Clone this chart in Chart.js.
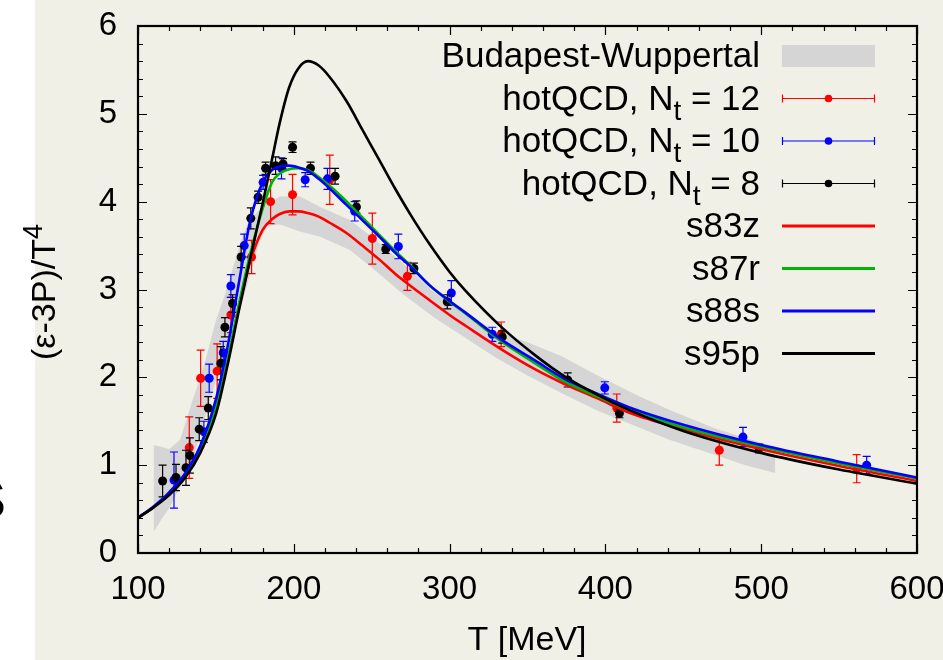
<!DOCTYPE html>
<html>
<head>
<meta charset="utf-8">
<script src="https://cdn.jsdelivr.net/npm/chart.js@4.4.1/dist/chart.umd.min.js"></script>
<style>
  html, body { margin: 0; padding: 0; background: #fff; }
  canvas { display: block; }
</style>
</head>
<body>
<canvas id="eos" width="943" height="660"></canvas>
<script>
// Budapest-Wuppertal band (upper / lower edge)
var bandT     = [110, 115, 120, 127, 135, 140, 144, 150, 155, 161, 166, 171, 178, 183, 191, 204, 217, 236, 250, 270, 290, 310, 330, 350, 372, 395, 420, 441, 470, 490, 509];
var bandUpper = [1.23, 1.21, 1.18, 1.29, 1.74, 2.0, 2.24, 2.65, 2.9, 3.25, 3.55, 3.77, 3.91, 3.98, 4.06, 4.06, 3.94, 3.79, 3.6, 3.3, 2.97, 2.72, 2.52, 2.40, 2.24, 2.02, 1.80, 1.63, 1.42, 1.31, 1.21];
var bandLower = [0.24, 0.38, 0.51, 0.75, 1.05, 1.36, 1.6, 1.97, 2.25, 2.51, 2.8, 3.11, 3.55, 3.72, 3.74, 3.66, 3.6, 3.45, 3.25, 2.95, 2.68, 2.45, 2.22, 2.02, 1.82, 1.62, 1.44, 1.29, 1.12, 1.0, 0.91];

// hotQCD lattice points
var nt12T   = [132.9, 140.2, 150.8, 159.6, 172.9, 185.1, 199.2, 223.1, 250.4, 272.9, 333.1, 407.3, 473.1, 561.3];
var nt12V   = [1.20, 1.99, 2.07, 2.71, 3.37, 4.00, 4.08, 4.25, 3.58, 3.15, 2.49, 1.65, 1.17, 0.96];
var nt12Err = [0.35, 0.32, 0.31, 0.2, 0.19, 0.25, 0.23, 0.28, 0.29, 0.16, 0.14, 0.16, 0.17, 0.16];

var nt10T   = [123.1, 142.3, 145.7, 154.7, 159.6, 168.2, 180.3, 192.1, 207.3, 221.6, 239.1, 267.1, 301.1, 327.4, 399.6, 488.3, 567.7];
var nt10V   = [0.83, 1.38, 1.99, 2.28, 3.04, 3.50, 4.22, 4.38, 4.25, 4.26, 3.89, 3.49, 2.96, 2.49, 1.88, 1.32, 1.00];
var nt10Err = [0.32, 0.12, 0.16, 0.13, 0.13, 0.13, 0.08, 0.12, 0.08, 0.12, 0.11, 0.14, 0.14, 0.08, 0.07, 0.11, 0.1];

var nt8T   = [115.8, 124.4, 130.8, 133.3, 139.3, 145.1, 153.2, 155.8, 160.7, 166.2, 172.4, 177.1, 181.9, 188.3, 193.1, 199.2, 210.7, 226.5, 240.2, 259.0, 277.1, 298.5, 333.8, 375.8, 409.0, 498.7];
var nt8V   = [0.82, 0.86, 0.97, 1.11, 1.41, 1.65, 2.16, 2.57, 2.84, 3.37, 3.81, 4.05, 4.38, 4.41, 4.43, 4.62, 4.38, 4.29, 3.94, 3.46, 3.24, 2.86, 2.46, 1.97, 1.59, 1.19];
var nt8Err = [0.18, 0.15, 0.2, 0.2, 0.13, 0.13, 0.19, 0.11, 0.1, 0.12, 0.12, 0.07, 0.07, 0.1, 0.06, 0.06, 0.07, 0.09, 0.07, 0.05, 0.06, 0.08, 0.07, 0.08, 0.05, 0.05];

// model curves, all on the same T grid
var curveT = [100, 110, 120, 130, 140, 150, 157, 165, 172, 180, 186, 191, 197, 203, 209, 216, 223, 234, 244, 255, 265, 275, 287, 300, 310, 334, 355, 373, 395, 415, 450, 500, 550, 600];
var s83z = [0.40, 0.52, 0.67, 0.87, 1.17, 1.65, 2.13, 2.82, 3.32, 3.68, 3.80, 3.86, 3.89, 3.89, 3.87, 3.83, 3.76, 3.64, 3.50, 3.34, 3.18, 3.04, 2.88, 2.71, 2.59, 2.31, 2.09, 1.93, 1.76, 1.60, 1.41, 1.18, 0.99, 0.82];
var s87r = [0.40, 0.52, 0.67, 0.87, 1.17, 1.66, 2.15, 2.85, 3.40, 3.92, 4.22, 4.32, 4.37, 4.38, 4.36, 4.28, 4.18, 4.00, 3.82, 3.62, 3.44, 3.27, 3.05, 2.86, 2.73, 2.40, 2.16, 1.96, 1.78, 1.63, 1.43, 1.21, 1.02, 0.85];
var s88s = [0.40, 0.53, 0.69, 0.90, 1.22, 1.75, 2.30, 3.10, 3.78, 4.22, 4.36, 4.40, 4.41, 4.39, 4.35, 4.26, 4.15, 3.96, 3.79, 3.60, 3.42, 3.26, 3.05, 2.87, 2.74, 2.42, 2.19, 1.99, 1.81, 1.66, 1.46, 1.23, 1.04, 0.86];
var s95p = [0.40, 0.52, 0.66, 0.85, 1.14, 1.58, 2.10, 2.78, 3.35, 3.98, 4.48, 4.90, 5.30, 5.52, 5.60, 5.55, 5.42, 5.14, 4.82, 4.47, 4.15, 3.85, 3.52, 3.20, 2.99, 2.56, 2.25, 2.02, 1.80, 1.63, 1.39, 1.14, 0.95, 0.79];

var xTicks = [100, 200, 300, 400, 500, 600];
var yTicks = [0, 1, 2, 3, 4, 5, 6];

var BG = '#f1f0e6';
var FONT = '"Liberation Sans", Arial, sans-serif';
var RED = '#ff0000', GREEN = '#00b400', BLUE = '#0000ff', BLACK = '#000000';
var BAND = '#d5d5d5';

function pts(xs, ys) {
    return xs.map(function (x, i) { return { x: x, y: ys[i] }; });
}

function curve(label, ys, color) {
    return {
        label: label,
        data: pts(curveT, ys),
        showLine: true,
        borderColor: color,
        borderWidth: 2.6,
        pointRadius: 0,
        fill: false,
        cubicInterpolationMode: 'monotone'
    };
}

function points(label, xs, ys, errs, color) {
    return {
        label: label,
        data: pts(xs, ys),
        errors: errs,
        showLine: false,
        borderColor: color,
        backgroundColor: color,
        pointBackgroundColor: color,
        pointBorderWidth: 0,
        pointRadius: 4.5
    };
}

// white strip on the left, beige everywhere else
var backdrop = {
    id: 'backdrop',
    beforeDraw: function (chart) {
        var ctx = chart.ctx;
        ctx.save();
        ctx.fillStyle = '#ffffff';
        ctx.fillRect(0, 0, chart.width, chart.height);
        ctx.fillStyle = BG;
        ctx.fillRect(35, 0, chart.width - 35, chart.height);
        ctx.restore();
    }
};

var errorBars = {
    id: 'errorBars',
    beforeDatasetDraw: function (chart, args) {
        var ds = chart.data.datasets[args.index];
        if (!ds.errors) return;
        var ctx = chart.ctx, xs = chart.scales.x, ys = chart.scales.y;
        ctx.save();
        ctx.strokeStyle = ds.borderColor;
        ctx.lineWidth = 1.2;
        ds.data.forEach(function (p, i) {
            var px = xs.getPixelForValue(p.x);
            var top = ys.getPixelForValue(p.y + ds.errors[i]);
            var bot = ys.getPixelForValue(p.y - ds.errors[i]);
            ctx.beginPath();
            ctx.moveTo(px, top); ctx.lineTo(px, bot);
            ctx.moveTo(px - 4, top); ctx.lineTo(px + 4, top);
            ctx.moveTo(px - 4, bot); ctx.lineTo(px + 4, bot);
            ctx.stroke();
        });
        ctx.restore();
    }
};

// frame on all four sides with inward ticks
var frame = {
    id: 'frame',
    afterDatasetsDraw: function (chart) {
        var ctx = chart.ctx, a = chart.chartArea;
        var xs = chart.scales.x, ys = chart.scales.y;
        ctx.save();
        ctx.strokeStyle = BLACK;
        ctx.lineWidth = 1.2;
        ctx.beginPath();
        for (var t = 100; t <= 600; t += 20) {
            var px = Math.round(xs.getPixelForValue(t)) + 0.5;
            var len = (t % 100 === 0) ? 9 : 5;
            ctx.moveTo(px, a.bottom); ctx.lineTo(px, a.bottom - len);
            ctx.moveTo(px, a.top); ctx.lineTo(px, a.top + len);
        }
        for (var k = 0; k <= 30; k++) {
            var py = Math.round(ys.getPixelForValue(k * 0.2)) + 0.5;
            var l2 = (k % 5 === 0) ? 9 : 5;
            ctx.moveTo(a.left, py); ctx.lineTo(a.left + l2, py);
            ctx.moveTo(a.right, py); ctx.lineTo(a.right - l2, py);
        }
        ctx.stroke();
        ctx.lineWidth = 2.2;
        ctx.strokeRect(a.left, a.top, a.right - a.left, a.bottom - a.top);
        ctx.restore();
    }
};

// text with a sub- or superscript part
function richText(ctx, parts, x, y, align) {
    var total = 0;
    parts.forEach(function (p) {
        ctx.font = p.size + 'px ' + FONT;
        p.w = ctx.measureText(p.text).width;
        total += p.w;
    });
    var cx = align === 'right' ? x - total : x;
    ctx.textAlign = 'left';
    parts.forEach(function (p) {
        ctx.font = p.size + 'px ' + FONT;
        ctx.fillText(p.text, cx, y + (p.dy || 0));
        cx += p.w;
    });
}

var legendRows = [
    { parts: [{ text: 'Budapest-Wuppertal', size: 35 }], kind: 'band', color: BAND },
    { parts: [{ text: 'hotQCD, N', size: 35 }, { text: 't', size: 28, dy: 10 }, { text: ' = 12', size: 35 }], kind: 'err', color: RED },
    { parts: [{ text: 'hotQCD, N', size: 35 }, { text: 't', size: 28, dy: 10 }, { text: ' = 10', size: 35 }], kind: 'err', color: BLUE },
    { parts: [{ text: 'hotQCD, N', size: 35 }, { text: 't', size: 28, dy: 10 }, { text: ' = 8', size: 35 }], kind: 'err', color: BLACK },
    { parts: [{ text: 's83z', size: 35 }], kind: 'line', color: RED },
    { parts: [{ text: 's87r', size: 35 }], kind: 'line', color: GREEN },
    { parts: [{ text: 's88s', size: 35 }], kind: 'line', color: BLUE },
    { parts: [{ text: 's95p', size: 35 }], kind: 'line', color: BLACK }
];

var annotations = {
    id: 'annotations',
    afterDraw: function (chart) {
        var ctx = chart.ctx;
        ctx.save();
        ctx.fillStyle = BLACK;
        ctx.textBaseline = 'alphabetic';

        // legend
        legendRows.forEach(function (row, i) {
            var y = 56 + i * 42.5;
            ctx.fillStyle = BLACK;
            richText(ctx, row.parts, 760, y + 11, 'right');
            if (row.kind === 'band') {
                ctx.fillStyle = row.color;
                ctx.fillRect(782, y - 11, 93, 22);
            } else if (row.kind === 'err') {
                ctx.strokeStyle = row.color;
                ctx.lineWidth = 1.2;
                ctx.beginPath();
                ctx.moveTo(782, y); ctx.lineTo(875, y);
                ctx.moveTo(782.5, y - 4); ctx.lineTo(782.5, y + 4);
                ctx.moveTo(874.5, y - 4); ctx.lineTo(874.5, y + 4);
                ctx.stroke();
                ctx.fillStyle = row.color;
                ctx.beginPath();
                ctx.arc(828.5, y, 3.8, 0, Math.PI * 2);
                ctx.fill();
            } else {
                ctx.strokeStyle = row.color;
                ctx.lineWidth = 3;
                ctx.beginPath();
                ctx.moveTo(782, y); ctx.lineTo(875, y);
                ctx.stroke();
            }
        });

        // axis titles
        ctx.fillStyle = BLACK;
        ctx.font = '34px ' + FONT;
        ctx.textAlign = 'center';
        ctx.fillText('T [MeV]', 527, 650);

        ctx.save();
        ctx.translate(55, 360);
        ctx.rotate(-Math.PI / 2);
        richText(ctx, [{ text: '(\u03b5-3P)/T', size: 34 }, { text: '4', size: 27, dy: -13 }], 0, 0, 'left');
        ctx.restore();

        // clipped glyph of the neighbouring figure
        ctx.font = '54px ' + FONT;
        ctx.textAlign = 'right';
        ctx.fillText('S', 6, 518);
        ctx.restore();
    }
};

var ctx = document.getElementById('eos').getContext('2d');

var chart = new Chart(ctx, {
    type: 'scatter',
    data: {
        datasets: [
            curve('s95p', s95p, BLACK),
            curve('s88s', s88s, BLUE),
            curve('s87r', s87r, GREEN),
            curve('s83z', s83z, RED),
            points('hotQCD, Nt = 8', nt8T, nt8V, nt8Err, BLACK),
            points('hotQCD, Nt = 10', nt10T, nt10V, nt10Err, BLUE),
            points('hotQCD, Nt = 12', nt12T, nt12V, nt12Err, RED),
            {
                label: 'Budapest-Wuppertal',
                data: pts(bandT, bandUpper),
                showLine: true,
                borderWidth: 0,
                borderColor: 'rgba(0,0,0,0)',
                backgroundColor: BAND,
                pointRadius: 0,
                fill: '+1'
            },
            {
                label: 'band lower',
                data: pts(bandT, bandLower),
                showLine: true,
                borderWidth: 0,
                borderColor: 'rgba(0,0,0,0)',
                pointRadius: 0,
                fill: false
            }
        ]
    },
    options: {
        responsive: false,
        animation: false,
        devicePixelRatio: 1,
        events: [],
        layout: { padding: { top: 26, right: 26, left: 0, bottom: 0 } },
        plugins: {
            legend: { display: false },
            tooltip: { enabled: false }
        },
        scales: {
            x: {
                type: 'linear',
                min: 100,
                max: 600,
                afterBuildTicks: function (s) { s.ticks = xTicks.map(function (v) { return { value: v }; }); },
                afterFit: function (s) { s.height = 107; s.paddingLeft = 0; s.paddingRight = 0; },
                grid: { display: false, drawTicks: false },
                border: { display: false },
                ticks: { color: BLACK, padding: 17, maxRotation: 0, font: { family: FONT, size: 33 } }
            },
            y: {
                type: 'linear',
                min: 0,
                max: 6,
                afterBuildTicks: function (s) { s.ticks = yTicks.map(function (v) { return { value: v }; }); },
                afterFit: function (s) { s.width = 138; s.paddingTop = 0; s.paddingBottom = 0; },
                grid: { display: false, drawTicks: false },
                border: { display: false },
                ticks: { color: BLACK, padding: 21, font: { family: FONT, size: 33 } }
            }
        }
    },
    plugins: [backdrop, errorBars, frame, annotations]
});
</script>
</body>
</html>
